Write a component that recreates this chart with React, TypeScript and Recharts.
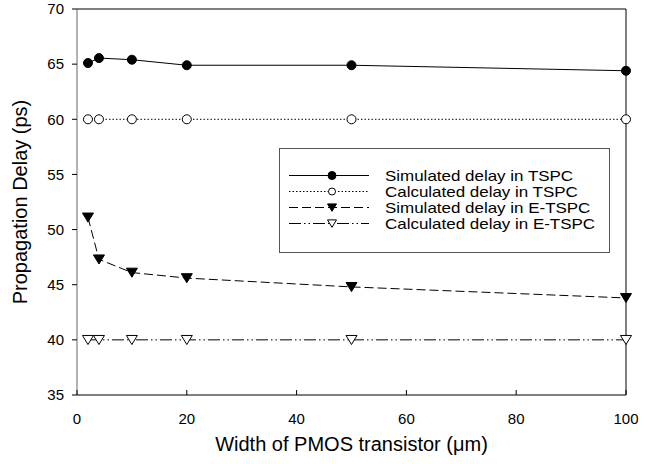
import React from "react";
import {
  LineChart,
  Line,
  XAxis,
  YAxis,
  Legend,
  ReferenceLine,
} from "recharts";

const widths = [2, 4, 10, 20, 50, 100];
const simTspc = [65.1, 65.55, 65.4, 64.9, 64.9, 64.4];
const calcTspc = [60, 60, 60, 60, 60, 60];
const simEtspc = [51.1, 47.3, 46.1, 45.6, 44.8, 43.8];
const calcEtspc = [40, 40, 40, 40, 40, 40];

const xTicks = [0, 20, 40, 60, 80, 100];
const yTicks = [35, 40, 45, 50, 55, 60, 65, 70];

const seriesNames = [
  "Simulated delay in TSPC",
  "Calculated delay in TSPC",
  "Simulated delay in E-TSPC",
  "Calculated delay in E-TSPC",
];

const data = widths.map((w, i) => ({
  w,
  simTspc: simTspc[i],
  calcTspc: calcTspc[i],
  simEtspc: simEtspc[i],
  calcEtspc: calcEtspc[i],
}));

const FONT = "'Liberation Sans', Arial, Helvetica, sans-serif";

const dashes = ["", "1.5 2", "9 4", "12 3 1.5 3 1.5 3"];

function Tri({ cx, cy, filled, s = 5.5 }: any) {
  if (cx == null || cy == null) return null;
  const pts = `${cx - s},${cy - s * 0.8} ${cx + s},${cy - s * 0.8} ${cx},${cy + s * 0.85}`;
  return <polygon points={pts} fill={filled ? "#000" : "#fff"} stroke="#000" strokeWidth={1} />;
}

function XTick({ x, y, payload }: any) {
  return (
    <g>
      <line x1={x} y1={y} x2={x} y2={y - 5} stroke="#000" />
      <text x={x} y={y + 29} textAnchor="middle" fontSize={15} fontFamily={FONT} fill="#000">
        {payload.value}
      </text>
    </g>
  );
}

function YTitle({ viewBox }: any) {
  const cy = viewBox.y + viewBox.height / 2;
  return (
    <text
      x={27}
      y={cy}
      transform={`rotate(-90, 27, ${cy})`}
      textAnchor="middle"
      fontSize={20}
      fontFamily={FONT}
      fill="#000"
    >
      Propagation Delay (ps)
    </text>
  );
}

// legend drawn by hand, the reference uses a boxed legend inside the plot
function LegendBox() {
  const rows = [0, 1, 2, 3];
  return (
    <svg width={332} height={106} style={{ display: "block" }}>
      <rect x={0.5} y={0.5} width={330} height={104} fill="#fff" stroke="#555" />
      {rows.map((i) => {
        const y = 27.5 + i * 16;
        return (
          <g key={i}>
            <line x1={10} y1={y} x2={90} y2={y} stroke="#000" strokeDasharray={dashes[i] || undefined} />
            {i === 0 && <circle cx={53} cy={y} r={4} fill="#000" stroke="#000" />}
            {i === 1 && <circle cx={53} cy={y} r={3.5} fill="#fff" stroke="#000" />}
            {i === 2 && <Tri cx={53} cy={y} filled s={4.5} />}
            {i === 3 && <Tri cx={53} cy={y} s={4.5} />}
            <text
              transform={`translate(106 ${y + 5}) scale(1.17 1)`}
              fontSize={14.5}
              fontFamily={FONT}
              fill="#000"
            >
              {seriesNames[i]}
            </text>
          </g>
        );
      })}
    </svg>
  );
}

export default function App() {
  return (
    <div style={{ position: "absolute", left: 0, top: 0, background: "#fff" }}>
      <LineChart width={652} height={464} data={data} margin={{ top: 9, right: 26, bottom: 0, left: 0 }}>
        <XAxis
          dataKey="w"
          type="number"
          domain={[0, 100]}
          ticks={xTicks}
          height={69}
          tickSize={0}
          tickMargin={0}
          tick={<XTick />}
          axisLine={{ stroke: "#000" }}
          label={{
            value: "Width of PMOS transistor (\u03bcm)",
            position: "insideBottom",
            offset: 13,
            style: { fontSize: 20, fontFamily: FONT, fill: "#000" },
          }}
        />
        <YAxis
          type="number"
          domain={[35, 70]}
          ticks={yTicks}
          width={77}
          tickSize={5}
          tickMargin={8}
          tick={{ fontSize: 15, fontFamily: FONT, fill: "#000" }}
          tickLine={{ stroke: "#000" }}
          axisLine={{ stroke: "#666" }}
          label={<YTitle />}
        />
        <ReferenceLine y={70} stroke="#000" />
        <ReferenceLine x={100} stroke="#000" />
        <Legend
          layout="vertical"
          align="center"
          verticalAlign="middle"
          content={() => <LegendBox />}
          wrapperStyle={{ left: 279, top: 148, width: 332, height: 106 }}
        />
        <Line
          dataKey="simTspc"
          stroke="#000"
          strokeWidth={1}
          dot={{ r: 4.5, fill: "#000", stroke: "#000" }}
          isAnimationActive={false}
        />
        <Line
          dataKey="calcTspc"
          stroke="#000"
          strokeWidth={1}
          strokeDasharray={dashes[1]}
          dot={{ r: 4.5, fill: "#fff", stroke: "#000", strokeDasharray: "" }}
          isAnimationActive={false}
        />
        <Line
          dataKey="simEtspc"
          stroke="#000"
          strokeWidth={1}
          strokeDasharray={dashes[2]}
          dot={(p: any) => <Tri key={p.index} cx={p.cx} cy={p.cy} filled />}
          isAnimationActive={false}
        />
        <Line
          dataKey="calcEtspc"
          stroke="#000"
          strokeWidth={1}
          strokeDasharray={dashes[3]}
          dot={(p: any) => <Tri key={p.index} cx={p.cx} cy={p.cy} />}
          isAnimationActive={false}
        />
      </LineChart>
    </div>
  );
}
